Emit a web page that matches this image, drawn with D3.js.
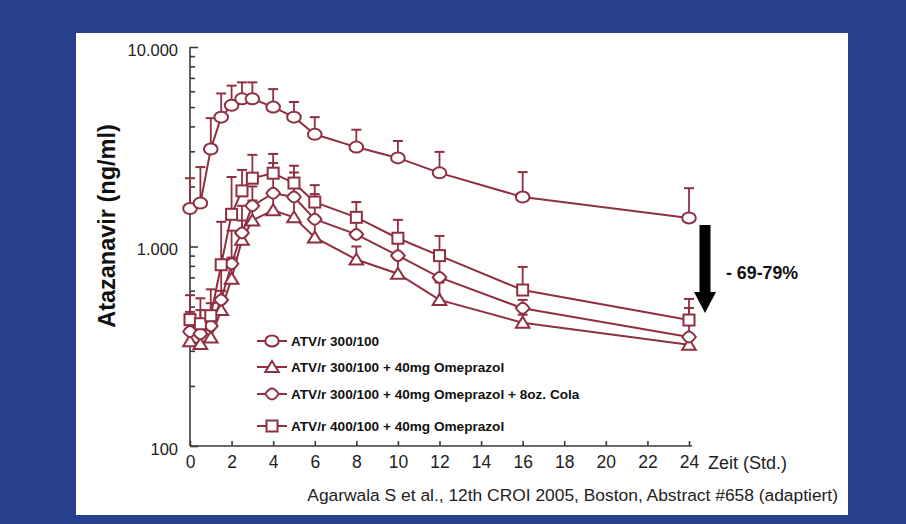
<!DOCTYPE html>
<html>
<head>
<meta charset="utf-8">
<script src="https://cdn.jsdelivr.net/npm/d3@7/dist/d3.min.js"></script>
<style>
  html, body { margin: 0; padding: 0; background: #27418f; }
  svg { display: block; }
  text { font-family: "Liberation Sans", Arial, sans-serif; }
</style>
</head>
<body>
<svg id="chart" width="906" height="524"></svg>
<script>
// ---- data ----
const times = [0, 0.5, 1, 1.5, 2, 2.5, 3, 4, 5, 6, 8, 10, 12, 16, 24];
const seriesNames = [
  "ATV/r 300/100",
  "ATV/r 300/100 + 40mg Omeprazol",
  "ATV/r 300/100 + 40mg Omeprazol + 8oz. Cola",
  "ATV/r 400/100 + 40mg Omeprazol"
];
const seriesSymbols = ["circle", "triangle", "diamond", "square"];
const atv300         = [1550, 1650, 3080, 4450, 5100, 5500, 5500, 5000, 4450, 3650, 3150, 2780, 2340, 1770, 1390];
const atv300Ome      = [335, 325, 350, 480, 690, 1080, 1350, 1520, 1400, 1110, 860, 730, 540, 415, 322];
const atv300OmeCola  = [375, 365, 400, 540, 820, 1170, 1600, 1850, 1770, 1370, 1150, 900, 700, 490, 352];
const atv400Ome      = [430, 410, 450, 810, 1450, 1900, 2200, 2330, 2080, 1670, 1400, 1100, 900, 605, 428];
// upper ends of the error bars
const atv300Upper        = [2200, 2500, 4400, 5850, 6400, 6650, 6650, 6150, 5300, 4450, 3850, 3380, 2980, 2360, 1960];
const atv300OmeUpper     = [390, 380, 420, 600, 880, 1350, 1700, 1900, 1750, 1350, 1000, 880, 660, 455, 360];
const atv300OmeColaUpper = [470, 480, 520, 850, 1200, 1600, 2000, 2620, 2350, 1830, 1450, 1150, 900, 540, 492];
const atv400OmeUpper     = [570, 550, 610, 1330, 2230, 2420, 2880, 2910, 2540, 2030, 1670, 1360, 1130, 790, 546];

const xTicks = [0, 2, 4, 6, 8, 10, 12, 14, 16, 18, 20, 22, 24];
const yMajorTicks = [100, 1000, 10000];
const yTickLabels = ["100", "1.000", "10.000"];
const yTitle = "Atazanavir (ng/ml)";
const xTitle = "Zeit (Std.)";
const source = "Agarwala S et al., 12th CROI 2005, Boston, Abstract #658 (adaptiert)";
const annotation = "- 69-79%";

const series = [
  { name: seriesNames[0], sym: seriesSymbols[0], values: atv300, upper: atv300Upper },
  { name: seriesNames[1], sym: seriesSymbols[1], values: atv300Ome, upper: atv300OmeUpper },
  { name: seriesNames[2], sym: seriesSymbols[2], values: atv300OmeCola, upper: atv300OmeColaUpper },
  { name: seriesNames[3], sym: seriesSymbols[3], values: atv400Ome, upper: atv400OmeUpper }
];

// ---- layout ----
const svg = d3.select("#chart");
const RED = "#8f3042";
const AXIS = "#3a3a3a";

svg.append("rect").attr("x", 0).attr("y", 0).attr("width", 906).attr("height", 524).attr("fill", "#27418f");
svg.append("rect").attr("x", 76).attr("y", 33).attr("width", 772).attr("height", 482).attr("fill", "#ffffff");

const x = d3.scaleLinear().domain([0, 24]).range([190, 689]);
const y = d3.scaleLog().domain([100, 10000]).range([446, 47]);

// x axis
const xAxis = svg.append("g").attr("transform", `translate(0,${y(100)})`)
  .call(d3.axisBottom(x).tickValues(xTicks).tickSize(-5).tickPadding(10).tickFormat(d3.format("d")));
xAxis.select(".domain").attr("d", `M${x(0)},0H${x(24) + 3}`);
xAxis.selectAll("path, line").attr("stroke", AXIS).attr("stroke-width", 1.6);
xAxis.selectAll("text").attr("font-size", 17.5).attr("fill", "#222");

// y axis minor
const minorTicks = [];
for (const dec of [100, 1000]) for (let k = 2; k <= 9; k++) minorTicks.push(dec * k);
const yMinor = svg.append("g").attr("transform", `translate(${x(0)},0)`)
  .call(d3.axisLeft(y).tickValues(minorTicks).tickSize(-5).tickFormat(""));
yMinor.select(".domain").remove();
yMinor.selectAll("line").attr("stroke", AXIS).attr("stroke-width", 1.6);

const yMajor = svg.append("g").attr("transform", `translate(${x(0)},0)`)
  .call(d3.axisLeft(y).tickValues(yMajorTicks).tickSize(-8).tickPadding(12)
    .tickFormat((d, i) => yTickLabels[i]));
yMajor.selectAll("path, line").attr("stroke", AXIS).attr("stroke-width", 1.6);
yMajor.select(".domain").attr("d", `M0,${y(100)}V${y(10000)}`);
yMajor.selectAll("text").attr("font-size", 16.5).attr("fill", "#222").attr("dy", "0.5em");

// titles
svg.append("text").attr("transform", `translate(115,226) rotate(-90)`)
  .attr("text-anchor", "middle").attr("font-size", 23.5).attr("font-weight", "bold").attr("fill", "#111")
  .text(yTitle);
svg.append("text").attr("x", x(24) + 19).attr("y", y(100) + 23)
  .attr("font-size", 18).attr("fill", "#222").text(xTitle);
svg.append("text").attr("x", 838).attr("y", 501).attr("text-anchor", "end")
  .attr("font-size", 17.4).attr("fill", "#222").text(source);

// symbols
function drawSymbol(g, sym, cx, cy) {
  const common = (s) => s.attr("fill", "#fff").attr("stroke", RED).attr("stroke-width", 2);
  if (sym === "circle") {
    common(g.append("ellipse").attr("cx", cx).attr("cy", cy).attr("rx", 6.8).attr("ry", 5.5));
  } else if (sym === "square") {
    common(g.append("rect").attr("x", cx - 5.5).attr("y", cy - 5.5).attr("width", 11).attr("height", 11));
  } else if (sym === "triangle") {
    common(g.append("path").attr("d", `M${cx},${cy - 6}L${cx + 6.8},${cy + 5}L${cx - 6.8},${cy + 5}Z`));
  } else {
    common(g.append("path").attr("d", `M${cx - 6.8},${cy}Q${cx - 3},${cy - 5.5} ${cx},${cy - 5.5}Q${cx + 3},${cy - 5.5} ${cx + 6.8},${cy}Q${cx + 3},${cy + 5.5} ${cx},${cy + 5.5}Q${cx - 3},${cy + 5.5} ${cx - 6.8},${cy}Z`));
  }
}

const line = d3.line().x((d, i) => x(times[i])).y(d => y(d));

// lines
const gLines = svg.append("g");
series.forEach(s => {
  gLines.append("path").attr("d", line(s.values)).attr("fill", "none")
    .attr("stroke", RED).attr("stroke-width", 2);
});

// error bars
const gErr = svg.append("g");
series.forEach(s => {
  s.upper.forEach((u, i) => {
    const cx = x(times[i]);
    gErr.append("line").attr("x1", cx).attr("x2", cx).attr("y1", y(s.values[i])).attr("y2", y(u))
      .attr("stroke", RED).attr("stroke-width", 1.8);
    gErr.append("line").attr("x1", cx - 5).attr("x2", cx + 5).attr("y1", y(u)).attr("y2", y(u))
      .attr("stroke", RED).attr("stroke-width", 2);
  });
});

// markers
const gMarks = svg.append("g");
series.forEach(s => {
  s.values.forEach((v, i) => drawSymbol(gMarks, s.sym, x(times[i]), y(v)));
});

// legend
const legendY = [341, 367, 394, 426];
const gLeg = svg.append("g");
series.forEach((s, i) => {
  const ly = legendY[i];
  gLeg.append("line").attr("x1", 257).attr("x2", 287).attr("y1", ly).attr("y2", ly)
    .attr("stroke", RED).attr("stroke-width", 2);
  drawSymbol(gLeg, s.sym, 272, ly);
  gLeg.append("text").attr("x", 291).attr("y", ly).attr("dy", "0.36em")
    .attr("font-size", 13.6).attr("font-weight", "bold").attr("fill", "#111").text(s.name);
});

// reduction arrow annotation
const ax = x(24) + 16;
const aTop = y(atv300[14]) + 7;
const aBot = y(atv400Ome[14]) - 7;
svg.append("path")
  .attr("d", `M${ax - 5.5},${aTop}H${ax + 5.5}V${aBot - 21}H${ax + 11}L${ax},${aBot}L${ax - 11},${aBot - 21}H${ax - 5.5}Z`)
  .attr("fill", "#000");
svg.append("text").attr("x", ax + 21).attr("y", (aTop + aBot) / 2 + 4).attr("dy", "0.35em")
  .attr("font-size", 17.8).attr("font-weight", "bold").attr("fill", "#111").text(annotation);
</script>
</body>
</html>
